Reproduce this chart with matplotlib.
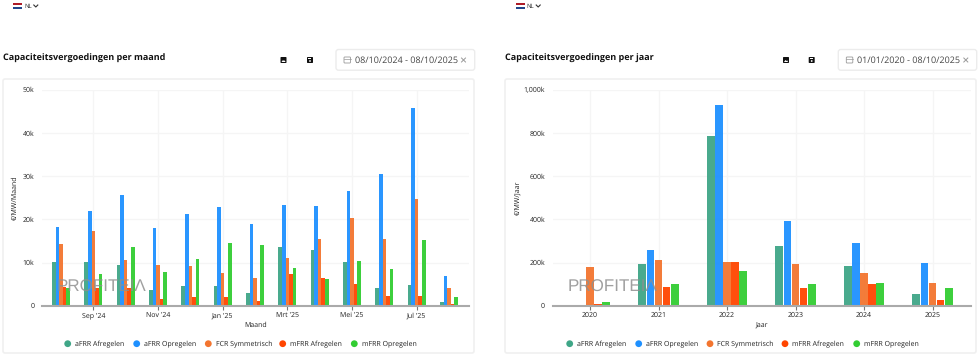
import matplotlib
matplotlib.use('Agg')
import matplotlib.pyplot as plt
import matplotlib.patches as patches
import numpy as np

plt.rcParams['font.family'] = ['Open Sans', 'DejaVu Sans']
# hinting makes small text run far too wide
plt.rcParams['text.hinting'] = 'none'
plt.rcParams['text.hinting_factor'] = 1

W = 980
H = 357

series = ['aFRR Afregelen', 'aFRR Opregelen', 'FCR Symmetrisch', 'mFRR Afregelen', 'mFRR Opregelen']
colors = ['#3fa687', '#1e90ff', '#f3752f', '#ff4500', '#32cd32']

# values per month, in k EUR
maand_labels = ['Sep \'24', 'Nov \'24', 'Jan \'25', 'Mrt \'25', 'Mei \'25', 'Jul \'25']
maand_ticks = [1, 3, 5, 7, 9, 11]
maand_afrr_af = [10.1, 10.1, 9.5, 3.6, 4.6, 4.5, 2.9, 13.7, 12.8, 10.1, 4.2, 4.9, 0.8]
maand_afrr_op = [18.2, 22.0, 25.6, 18.0, 21.2, 22.8, 18.8, 23.2, 23.0, 26.6, 30.6, 45.7, 6.8]
maand_fcr = [14.2, 17.4, 10.6, 9.4, 9.3, 7.6, 6.3, 11.0, 15.4, 20.2, 15.4, 24.8, 4.2]
maand_mfrr_af = [4.3, 4.0, 4.0, 1.6, 1.9, 1.9, 1.1, 7.3, 6.4, 5.0, 2.2, 2.2, 0.4]
maand_mfrr_op = [4.0, 7.4, 13.7, 7.8, 10.8, 14.4, 14.0, 8.8, 6.2, 10.3, 8.6, 15.2, 1.9]

# values per year, in k EUR
jaren = ['2020', '2021', '2022', '2023', '2024', '2025']
jaar_afrr_af = [0, 193, 784, 276, 184, 52]
jaar_afrr_op = [0, 256, 931, 391, 289, 199]
jaar_fcr = [181, 210, 204, 191, 151, 105]
jaar_mfrr_af = [8, 86, 201, 80, 100, 28]
jaar_mfrr_op = [15, 99, 159, 100, 103, 80]

maand_y = [0, 10, 20, 30, 40, 50]
maand_y_labels = ['0', '10k', '20k', '30k', '40k', '50k']
jaar_y = [0, 200, 400, 600, 800, 1000]
jaar_y_labels = ['0', '200k', '400k', '600k', '800k', '1,000k']

small = 4.8
txt = '#222222'

fig = plt.figure(figsize=(W / 100, H / 100), dpi=100, facecolor='white')

# overlay in pixel coordinates for the page furniture
page = fig.add_axes([0, 0, 1, 1], zorder=0)
page.set_xlim(0, W)
page.set_ylim(H, 0)
page.axis('off')

# watermark goes above the bars
top = fig.add_axes([0, 0, 1, 1], zorder=5)
top.set_xlim(0, W)
top.set_ylim(H, 0)
top.axis('off')


def make_chart(left, right, x0, step, groups, xticks, xlabels, yticks, ylabels, ytop,
               bar_w, group_step, xlabel, ylabel, wm_x, ylabel_x):
    ax = fig.add_axes([left / W, 1 - 305.7 / H, (right - left) / W, (305.7 - 89.7) / H], zorder=2)
    ax.patch.set_alpha(0)
    ax.set_xlim((left - x0) / step, (right - x0) / step)
    ax.set_ylim(0, ytop)
    for i, vals in enumerate(groups):
        x = np.arange(len(vals)) + (i - 2) * group_step
        ax.bar(x, vals, bar_w, color=colors[i], alpha=0.95, zorder=3, linewidth=0)
    ax.set_xticks(xticks)
    ax.set_xticklabels(xlabels, fontsize=small, color=txt)
    ax.set_yticks(yticks)
    ax.set_yticklabels(ylabels, fontsize=small, color=txt)
    ax.tick_params(axis='y', length=0, pad=5.5)
    ax.tick_params(axis='x', length=3, width=0.8, color='#777777', pad=1.5)
    ax.grid(True, color='#f5f5f5', lw=0.9, zorder=0)
    ax.set_axisbelow(True)
    for s in ['top', 'right', 'left']:
        ax.spines[s].set_visible(False)
    ax.spines['bottom'].set_color('#aaaaaa')
    ax.spines['bottom'].set_linewidth(1.5)
    ax.spines['bottom'].set_zorder(4)
    ax.set_xlabel(xlabel, fontsize=small, color=txt, va='center')
    ax.xaxis.set_label_coords(0.5, (305.7 - 325) / 216)
    ax.set_ylabel(ylabel, fontsize=small, color=txt, va='center')
    ax.yaxis.set_label_coords((ylabel_x - left) / (right - left), 0.50)
    top.text(wm_x, 287.7, 'PROFITEIΛ', fontsize=12.2, color='#8f8f8f', alpha=0.85,
             family=['Liberation Sans', 'DejaVu Sans'], va='center', ha='left')
    return ax


def furniture(x, title, dates, flag_x, icon_x1, icon_x2, box_l, box_r, legend_x):
    # panel
    page.add_patch(patches.FancyBboxPatch((x, 79), 471, 274, boxstyle='round,pad=0,rounding_size=2',
                                          fc='white', ec='#f0f0f0', lw=1.2))
    page.text(x, 58.5, title, fontsize=6.3, fontweight='bold', color='#111111', va='center', ha='left')
    # language picker
    for j, c in enumerate(['#ae1c28', '#ffffff', '#21468b']):
        page.add_patch(patches.Rectangle((flag_x, 3.4 + j * 1.9), 9, 1.9, fc=c, ec='none'))
    page.text(flag_x + 11, 6, 'NL', fontsize=4.2, color=txt, va='center', ha='left')
    page.plot([flag_x + 20.5, flag_x + 22.5, flag_x + 24.5], [5, 7, 5], color='#333333', lw=0.8)
    # image icon
    page.add_patch(patches.FancyBboxPatch((icon_x1 - 3, 57), 6, 6, boxstyle='round,pad=0,rounding_size=0.7',
                                          fc='#111111', ec='none'))
    page.add_patch(patches.Polygon([(icon_x1 - 2, 62), (icon_x1 - 0.5, 60), (icon_x1 + 0.5, 61),
                                    (icon_x1 + 1.2, 60.3), (icon_x1 + 2, 62)], fc='white', ec='none'))
    # save icon
    page.add_patch(patches.FancyBboxPatch((icon_x2 - 3, 57), 6, 6, boxstyle='round,pad=0,rounding_size=0.7',
                                          fc='#111111', ec='none'))
    page.add_patch(patches.Rectangle((icon_x2 - 1.7, 57.7), 3, 1.4, fc='white', ec='none'))
    page.add_patch(patches.Circle((icon_x2, 61), 0.9, fc='white', ec='none'))
    # date box
    page.add_patch(patches.FancyBboxPatch((box_l, 49.5), box_r - box_l, 20.7,
                                          boxstyle='round,pad=0,rounding_size=2.5',
                                          fc='white', ec='#ececec', lw=1))
    page.add_patch(patches.FancyBboxPatch((box_l + 8, 57), 6.5, 6, boxstyle='round,pad=0,rounding_size=0.8',
                                          fc='none', ec='#999999', lw=0.6))
    page.plot([box_l + 8, box_l + 14.5], [58.8, 58.8], color='#999999', lw=0.5)
    page.text(box_l + 19, 60.5, dates, fontsize=6.3, color='#444444', va='center', ha='left')
    page.plot([box_l + 125.5, box_l + 129.5], [58, 62], color='#999999', lw=0.7)
    page.plot([box_l + 125.5, box_l + 129.5], [62, 58], color='#999999', lw=0.7)
    # legend
    for name, c, lx in zip(series, colors, legend_x):
        page.add_patch(patches.Circle((lx, 343.7), 3.4, fc=c, ec='none'))
        page.text(lx + 7.3, 344, name, fontsize=small, color=txt, va='center', ha='left')


furniture(3, 'Capaciteitsvergoedingen per maand', '08/10/2024 - 08/10/2025', 13.3, 283.5, 310, 336, 474.7,
          [67.7, 136.7, 208.3, 282.7, 354.3])
furniture(505, 'Capaciteitsvergoedingen per jaar', '01/01/2020 - 08/10/2025', 515.7, 786, 811.7, 838.3, 976.7,
          [569.7, 638.7, 710, 785, 856.7])

make_chart(42, 468.7, 61, 32.33,
           [maand_afrr_af, maand_afrr_op, maand_fcr, maand_mfrr_af, maand_mfrr_op],
           maand_ticks, maand_labels, maand_y, maand_y_labels, 50,
           0.111, 0.111, 'Maand', '€/MW/Maand', 57, 15)

make_chart(552.7, 970.7, 590, 68.5,
           [jaar_afrr_af, jaar_afrr_op, jaar_fcr, jaar_mfrr_af, jaar_mfrr_op],
           range(6), jaren, jaar_y, jaar_y_labels, 1000,
           0.112, 0.119, 'Jaar', '€/MW/Jaar', 567.7, 517.3)

fig.savefig('out.png', dpi=100)
